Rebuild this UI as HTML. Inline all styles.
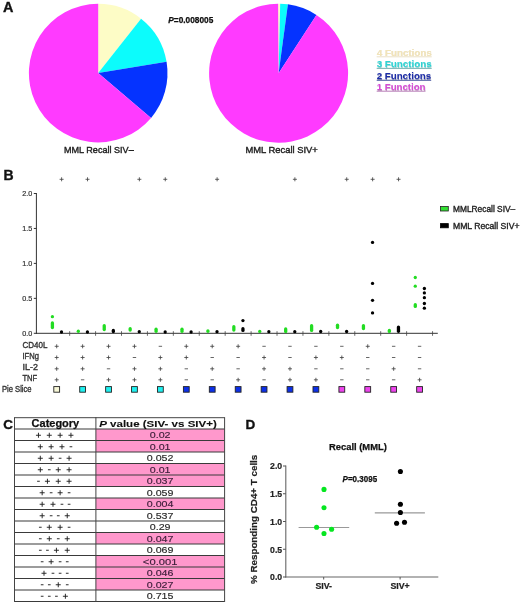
<!DOCTYPE html>
<html><head><meta charset="utf-8"><style>
html,body{margin:0;padding:0;background:#fff;overflow:hidden;}
svg{display:block;will-change:transform;font-family:"Liberation Sans", sans-serif;}
</style></head><body>
<svg width="520" height="604" viewBox="0 0 520 604">
<rect width="520" height="604" fill="#fff"/>
<text x="2.9" y="11.8" font-size="14.4" font-weight="bold" fill="#111" stroke="#111" stroke-width="0.35">A</text>
<path d="M98.20,73.10 L98.20,3.80 A69.3,69.3 0 0 1 141.06,18.64 Z" fill="#fdfcc6"/>
<path d="M98.20,73.10 L141.06,18.64 A69.3,69.3 0 0 1 166.57,61.78 Z" fill="#0cfcfc"/>
<path d="M98.20,73.10 L166.57,61.78 A69.3,69.3 0 0 1 151.05,117.92 Z" fill="#0533ff"/>
<path d="M98.20,73.10 L151.05,117.92 A69.3,69.3 0 1 1 98.20,3.80 Z" fill="#ff3aff"/>
<path d="M278.60,73.20 L278.11,3.70 A69.5,69.5 0 0 1 280.18,3.72 Z" fill="#fdfcc6"/>
<path d="M278.60,73.20 L280.18,3.72 A69.5,69.5 0 0 1 287.91,4.33 Z" fill="#0cfcfc"/>
<path d="M278.60,73.20 L287.91,4.33 A69.5,69.5 0 0 1 316.45,14.91 Z" fill="#0533ff"/>
<path d="M278.60,73.20 L316.45,14.91 A69.5,69.5 0 1 1 278.11,3.70 Z" fill="#ff3aff"/>
<text x="168.3" y="22.8" font-size="8.4" font-weight="bold" fill="#111" stroke="#111" stroke-width="0.25" textLength="45" lengthAdjust="spacingAndGlyphs"><tspan font-style="italic">P</tspan>=0.008005</text>
<text x="64" y="153.3" font-size="9.7" fill="#222" stroke="#222" stroke-width="0.4" textLength="69.7" lengthAdjust="spacingAndGlyphs">MML Recall SIV–</text>
<text x="245.5" y="153.3" font-size="9.7" fill="#222" stroke="#222" stroke-width="0.4" textLength="72.3" lengthAdjust="spacingAndGlyphs">MML Recall SIV+</text>
<line x1="376.7" y1="56.8" x2="431.7" y2="56.8" stroke="#e8dcc0" stroke-width="0.9"/>
<text x="377.0" y="56.099999999999994" font-size="9.4" font-weight="bold" fill="#c8b898" opacity="0.45" textLength="55" lengthAdjust="spacingAndGlyphs">4 Functions</text>
<text x="376.7" y="55.8" font-size="9.4" font-weight="bold" fill="#f2e4b8" textLength="55" lengthAdjust="spacingAndGlyphs">4 Functions</text>
<line x1="376.7" y1="68.35" x2="431.7" y2="68.35" stroke="#60a8a8" stroke-width="0.9"/>
<text x="377.0" y="67.64999999999999" font-size="9.4" font-weight="bold" fill="#209898" opacity="0.45" textLength="55" lengthAdjust="spacingAndGlyphs">3 Functions</text>
<text x="376.7" y="67.35" font-size="9.4" font-weight="bold" fill="#2cd4d4" textLength="55" lengthAdjust="spacingAndGlyphs">3 Functions</text>
<line x1="376.7" y1="80.25" x2="431.2" y2="80.25" stroke="#2a3a90" stroke-width="0.9"/>
<text x="377.0" y="79.55" font-size="9.4" font-weight="bold" fill="#101860" opacity="0.45" textLength="54.5" lengthAdjust="spacingAndGlyphs">2 Functions</text>
<text x="376.7" y="79.25" font-size="9.4" font-weight="bold" fill="#1c2ca8" textLength="54.5" lengthAdjust="spacingAndGlyphs">2 Functions</text>
<line x1="376.7" y1="91.2" x2="425.5" y2="91.2" stroke="#b070b0" stroke-width="0.9"/>
<text x="377.0" y="90.5" font-size="9.4" font-weight="bold" fill="#904090" opacity="0.45" textLength="48.8" lengthAdjust="spacingAndGlyphs">1 Function</text>
<text x="376.7" y="90.2" font-size="9.4" font-weight="bold" fill="#d64cd6" textLength="48.8" lengthAdjust="spacingAndGlyphs">1 Function</text>
<text x="3.5" y="179.5" font-size="14" font-weight="bold" fill="#111" stroke="#111" stroke-width="0.35">B</text>
<line x1="36.4" y1="193.0" x2="36.4" y2="333.8" stroke="#333" stroke-width="1"/>
<line x1="35.9" y1="333.3" x2="437.8" y2="333.3" stroke="#333" stroke-width="1"/>
<line x1="33.8" y1="333.30" x2="36.4" y2="333.30" stroke="#333" stroke-width="1"/>
<text x="32.3" y="335.90" font-size="7.2" fill="#333" stroke="#333" stroke-width="0.2" text-anchor="end">0.0</text>
<line x1="33.8" y1="298.35" x2="36.4" y2="298.35" stroke="#333" stroke-width="1"/>
<text x="32.3" y="300.95" font-size="7.2" fill="#333" stroke="#333" stroke-width="0.2" text-anchor="end">0.5</text>
<line x1="33.8" y1="263.40" x2="36.4" y2="263.40" stroke="#333" stroke-width="1"/>
<text x="32.3" y="266.00" font-size="7.2" fill="#333" stroke="#333" stroke-width="0.2" text-anchor="end">1.0</text>
<line x1="33.8" y1="228.45" x2="36.4" y2="228.45" stroke="#333" stroke-width="1"/>
<text x="32.3" y="231.05" font-size="7.2" fill="#333" stroke="#333" stroke-width="0.2" text-anchor="end">1.5</text>
<line x1="33.8" y1="193.50" x2="36.4" y2="193.50" stroke="#333" stroke-width="1"/>
<text x="32.3" y="196.10" font-size="7.2" fill="#333" stroke="#333" stroke-width="0.2" text-anchor="end">2.0</text>
<line x1="69.66" y1="331.2" x2="69.66" y2="335.8" stroke="#444" stroke-width="0.8"/>
<line x1="95.58" y1="331.2" x2="95.58" y2="335.8" stroke="#444" stroke-width="0.8"/>
<line x1="121.50" y1="331.2" x2="121.50" y2="335.8" stroke="#444" stroke-width="0.8"/>
<line x1="147.42" y1="331.2" x2="147.42" y2="335.8" stroke="#444" stroke-width="0.8"/>
<line x1="173.34" y1="331.2" x2="173.34" y2="335.8" stroke="#444" stroke-width="0.8"/>
<line x1="199.26" y1="331.2" x2="199.26" y2="335.8" stroke="#444" stroke-width="0.8"/>
<line x1="225.18" y1="331.2" x2="225.18" y2="335.8" stroke="#444" stroke-width="0.8"/>
<line x1="251.10" y1="331.2" x2="251.10" y2="335.8" stroke="#444" stroke-width="0.8"/>
<line x1="277.02" y1="331.2" x2="277.02" y2="335.8" stroke="#444" stroke-width="0.8"/>
<line x1="302.94" y1="331.2" x2="302.94" y2="335.8" stroke="#444" stroke-width="0.8"/>
<line x1="328.86" y1="331.2" x2="328.86" y2="335.8" stroke="#444" stroke-width="0.8"/>
<line x1="354.78" y1="331.2" x2="354.78" y2="335.8" stroke="#444" stroke-width="0.8"/>
<line x1="380.70" y1="331.2" x2="380.70" y2="335.8" stroke="#444" stroke-width="0.8"/>
<line x1="406.62" y1="331.2" x2="406.62" y2="335.8" stroke="#444" stroke-width="0.8"/>
<line x1="432.54" y1="331.2" x2="432.54" y2="335.8" stroke="#444" stroke-width="0.8"/>
<path d="M59.60,179.30H63.60M61.60,177.30V181.30" stroke="#444" stroke-width="0.85" fill="none"/>
<path d="M85.52,179.30H89.52M87.52,177.30V181.30" stroke="#444" stroke-width="0.85" fill="none"/>
<path d="M137.36,179.30H141.36M139.36,177.30V181.30" stroke="#444" stroke-width="0.85" fill="none"/>
<path d="M163.28,179.30H167.28M165.28,177.30V181.30" stroke="#444" stroke-width="0.85" fill="none"/>
<path d="M215.12,179.30H219.12M217.12,177.30V181.30" stroke="#444" stroke-width="0.85" fill="none"/>
<path d="M292.88,179.30H296.88M294.88,177.30V181.30" stroke="#444" stroke-width="0.85" fill="none"/>
<path d="M344.72,179.30H348.72M346.72,177.30V181.30" stroke="#444" stroke-width="0.85" fill="none"/>
<path d="M370.64,179.30H374.64M372.64,177.30V181.30" stroke="#444" stroke-width="0.85" fill="none"/>
<path d="M396.56,179.30H400.56M398.56,177.30V181.30" stroke="#444" stroke-width="0.85" fill="none"/>
<path d="M54.70,346.30H58.70M56.70,344.30V348.30" stroke="#444" stroke-width="0.85" fill="none"/>
<path d="M54.70,357.50H58.70M56.70,355.50V359.50" stroke="#444" stroke-width="0.85" fill="none"/>
<path d="M54.70,368.80H58.70M56.70,366.80V370.80" stroke="#444" stroke-width="0.85" fill="none"/>
<path d="M54.70,379.80H58.70M56.70,377.80V381.80" stroke="#444" stroke-width="0.85" fill="none"/>
<rect x="53.80" y="386.6" width="5.8" height="5.6" fill="#f8f8d8" stroke="#222" stroke-width="0.9"/>
<path d="M80.62,346.30H84.62M82.62,344.30V348.30" stroke="#444" stroke-width="0.85" fill="none"/>
<path d="M80.62,357.50H84.62M82.62,355.50V359.50" stroke="#444" stroke-width="0.85" fill="none"/>
<path d="M80.62,368.80H84.62M82.62,366.80V370.80" stroke="#444" stroke-width="0.85" fill="none"/>
<path d="M80.92,379.80H84.32" stroke="#555" stroke-width="0.9" fill="none"/>
<rect x="79.72" y="386.6" width="5.8" height="5.6" fill="#20f0f0" stroke="#222" stroke-width="0.9"/>
<path d="M106.54,346.30H110.54M108.54,344.30V348.30" stroke="#444" stroke-width="0.85" fill="none"/>
<path d="M106.54,357.50H110.54M108.54,355.50V359.50" stroke="#444" stroke-width="0.85" fill="none"/>
<path d="M106.84,368.80H110.24" stroke="#555" stroke-width="0.9" fill="none"/>
<path d="M106.54,379.80H110.54M108.54,377.80V381.80" stroke="#444" stroke-width="0.85" fill="none"/>
<rect x="105.64" y="386.6" width="5.8" height="5.6" fill="#20f0f0" stroke="#222" stroke-width="0.9"/>
<path d="M132.46,346.30H136.46M134.46,344.30V348.30" stroke="#444" stroke-width="0.85" fill="none"/>
<path d="M132.76,357.50H136.16" stroke="#555" stroke-width="0.9" fill="none"/>
<path d="M132.46,368.80H136.46M134.46,366.80V370.80" stroke="#444" stroke-width="0.85" fill="none"/>
<path d="M132.46,379.80H136.46M134.46,377.80V381.80" stroke="#444" stroke-width="0.85" fill="none"/>
<rect x="131.56" y="386.6" width="5.8" height="5.6" fill="#20f0f0" stroke="#222" stroke-width="0.9"/>
<path d="M158.68,346.30H162.08" stroke="#555" stroke-width="0.9" fill="none"/>
<path d="M158.38,357.50H162.38M160.38,355.50V359.50" stroke="#444" stroke-width="0.85" fill="none"/>
<path d="M158.38,368.80H162.38M160.38,366.80V370.80" stroke="#444" stroke-width="0.85" fill="none"/>
<path d="M158.38,379.80H162.38M160.38,377.80V381.80" stroke="#444" stroke-width="0.85" fill="none"/>
<rect x="157.48" y="386.6" width="5.8" height="5.6" fill="#20f0f0" stroke="#222" stroke-width="0.9"/>
<path d="M184.30,346.30H188.30M186.30,344.30V348.30" stroke="#444" stroke-width="0.85" fill="none"/>
<path d="M184.30,357.50H188.30M186.30,355.50V359.50" stroke="#444" stroke-width="0.85" fill="none"/>
<path d="M184.60,368.80H188.00" stroke="#555" stroke-width="0.9" fill="none"/>
<path d="M184.60,379.80H188.00" stroke="#555" stroke-width="0.9" fill="none"/>
<rect x="183.40" y="386.6" width="5.8" height="5.6" fill="#0c30e8" stroke="#222" stroke-width="0.9"/>
<path d="M210.22,346.30H214.22M212.22,344.30V348.30" stroke="#444" stroke-width="0.85" fill="none"/>
<path d="M210.52,357.50H213.92" stroke="#555" stroke-width="0.9" fill="none"/>
<path d="M210.22,368.80H214.22M212.22,366.80V370.80" stroke="#444" stroke-width="0.85" fill="none"/>
<path d="M210.52,379.80H213.92" stroke="#555" stroke-width="0.9" fill="none"/>
<rect x="209.32" y="386.6" width="5.8" height="5.6" fill="#0c30e8" stroke="#222" stroke-width="0.9"/>
<path d="M236.14,346.30H240.14M238.14,344.30V348.30" stroke="#444" stroke-width="0.85" fill="none"/>
<path d="M236.44,357.50H239.84" stroke="#555" stroke-width="0.9" fill="none"/>
<path d="M236.44,368.80H239.84" stroke="#555" stroke-width="0.9" fill="none"/>
<path d="M236.14,379.80H240.14M238.14,377.80V381.80" stroke="#444" stroke-width="0.85" fill="none"/>
<rect x="235.24" y="386.6" width="5.8" height="5.6" fill="#0c30e8" stroke="#222" stroke-width="0.9"/>
<path d="M262.36,346.30H265.76" stroke="#555" stroke-width="0.9" fill="none"/>
<path d="M262.06,357.50H266.06M264.06,355.50V359.50" stroke="#444" stroke-width="0.85" fill="none"/>
<path d="M262.06,368.80H266.06M264.06,366.80V370.80" stroke="#444" stroke-width="0.85" fill="none"/>
<path d="M262.36,379.80H265.76" stroke="#555" stroke-width="0.9" fill="none"/>
<rect x="261.16" y="386.6" width="5.8" height="5.6" fill="#0c30e8" stroke="#222" stroke-width="0.9"/>
<path d="M288.28,346.30H291.68" stroke="#555" stroke-width="0.9" fill="none"/>
<path d="M288.28,357.50H291.68" stroke="#555" stroke-width="0.9" fill="none"/>
<path d="M287.98,368.80H291.98M289.98,366.80V370.80" stroke="#444" stroke-width="0.85" fill="none"/>
<path d="M287.98,379.80H291.98M289.98,377.80V381.80" stroke="#444" stroke-width="0.85" fill="none"/>
<rect x="287.08" y="386.6" width="5.8" height="5.6" fill="#0c30e8" stroke="#222" stroke-width="0.9"/>
<path d="M314.20,346.30H317.60" stroke="#555" stroke-width="0.9" fill="none"/>
<path d="M313.90,357.50H317.90M315.90,355.50V359.50" stroke="#444" stroke-width="0.85" fill="none"/>
<path d="M314.20,368.80H317.60" stroke="#555" stroke-width="0.9" fill="none"/>
<path d="M313.90,379.80H317.90M315.90,377.80V381.80" stroke="#444" stroke-width="0.85" fill="none"/>
<rect x="313.00" y="386.6" width="5.8" height="5.6" fill="#0c30e8" stroke="#222" stroke-width="0.9"/>
<path d="M340.12,346.30H343.52" stroke="#555" stroke-width="0.9" fill="none"/>
<path d="M339.82,357.50H343.82M341.82,355.50V359.50" stroke="#444" stroke-width="0.85" fill="none"/>
<path d="M340.12,368.80H343.52" stroke="#555" stroke-width="0.9" fill="none"/>
<path d="M340.12,379.80H343.52" stroke="#555" stroke-width="0.9" fill="none"/>
<rect x="338.92" y="386.6" width="5.8" height="5.6" fill="#ee44ee" stroke="#222" stroke-width="0.9"/>
<path d="M365.74,346.30H369.74M367.74,344.30V348.30" stroke="#444" stroke-width="0.85" fill="none"/>
<path d="M366.04,357.50H369.44" stroke="#555" stroke-width="0.9" fill="none"/>
<path d="M366.04,368.80H369.44" stroke="#555" stroke-width="0.9" fill="none"/>
<path d="M366.04,379.80H369.44" stroke="#555" stroke-width="0.9" fill="none"/>
<rect x="364.84" y="386.6" width="5.8" height="5.6" fill="#ee44ee" stroke="#222" stroke-width="0.9"/>
<path d="M391.96,346.30H395.36" stroke="#555" stroke-width="0.9" fill="none"/>
<path d="M391.96,357.50H395.36" stroke="#555" stroke-width="0.9" fill="none"/>
<path d="M391.66,368.80H395.66M393.66,366.80V370.80" stroke="#444" stroke-width="0.85" fill="none"/>
<path d="M391.96,379.80H395.36" stroke="#555" stroke-width="0.9" fill="none"/>
<rect x="390.76" y="386.6" width="5.8" height="5.6" fill="#ee44ee" stroke="#222" stroke-width="0.9"/>
<path d="M417.88,346.30H421.28" stroke="#555" stroke-width="0.9" fill="none"/>
<path d="M417.88,357.50H421.28" stroke="#555" stroke-width="0.9" fill="none"/>
<path d="M417.88,368.80H421.28" stroke="#555" stroke-width="0.9" fill="none"/>
<path d="M417.58,379.80H421.58M419.58,377.80V381.80" stroke="#444" stroke-width="0.85" fill="none"/>
<rect x="416.68" y="386.6" width="5.8" height="5.6" fill="#ee44ee" stroke="#222" stroke-width="0.9"/>
<text x="22.5" y="347.5" font-size="8.3" fill="#333" stroke="#333" stroke-width="0.35" textLength="24.9" lengthAdjust="spacingAndGlyphs">CD40L</text>
<text x="22.5" y="358.6" font-size="8.3" fill="#333" stroke="#333" stroke-width="0.35" textLength="16.5" lengthAdjust="spacingAndGlyphs">IFNg</text>
<text x="22.5" y="370" font-size="8.3" fill="#333" stroke="#333" stroke-width="0.35" textLength="15.5" lengthAdjust="spacingAndGlyphs">IL-2</text>
<text x="22.5" y="380.9" font-size="8.3" fill="#333" stroke="#333" stroke-width="0.35" textLength="14.7" lengthAdjust="spacingAndGlyphs">TNF</text>
<text x="2" y="392.2" font-size="8.3" fill="#333" stroke="#333" stroke-width="0.35" textLength="29.6" lengthAdjust="spacingAndGlyphs">Pie Slice</text>
<circle cx="52.40" cy="316.70" r="1.65" fill="#22dc22"/>
<line x1="52.40" y1="322.95" x2="52.40" y2="327.55" stroke="#22dc22" stroke-width="3.3" stroke-linecap="round"/>
<line x1="78.32" y1="331.25" x2="78.32" y2="331.35" stroke="#22dc22" stroke-width="3.3" stroke-linecap="round"/>
<line x1="104.24" y1="325.65" x2="104.24" y2="329.55" stroke="#22dc22" stroke-width="3.3" stroke-linecap="round"/>
<line x1="130.16" y1="328.65" x2="130.16" y2="330.05" stroke="#22dc22" stroke-width="3.3" stroke-linecap="round"/>
<line x1="156.08" y1="329.25" x2="156.08" y2="331.35" stroke="#22dc22" stroke-width="3.3" stroke-linecap="round"/>
<line x1="182.00" y1="329.25" x2="182.00" y2="331.35" stroke="#22dc22" stroke-width="3.3" stroke-linecap="round"/>
<line x1="207.92" y1="330.85" x2="207.92" y2="331.35" stroke="#22dc22" stroke-width="3.3" stroke-linecap="round"/>
<line x1="233.84" y1="326.65" x2="233.84" y2="330.05" stroke="#22dc22" stroke-width="3.3" stroke-linecap="round"/>
<circle cx="259.76" cy="331.40" r="1.65" fill="#22dc22"/>
<line x1="285.68" y1="328.95" x2="285.68" y2="331.55" stroke="#22dc22" stroke-width="3.3" stroke-linecap="round"/>
<line x1="311.60" y1="325.65" x2="311.60" y2="330.45" stroke="#22dc22" stroke-width="3.3" stroke-linecap="round"/>
<line x1="337.52" y1="325.15" x2="337.52" y2="327.55" stroke="#22dc22" stroke-width="3.3" stroke-linecap="round"/>
<line x1="363.44" y1="325.65" x2="363.44" y2="328.55" stroke="#22dc22" stroke-width="3.3" stroke-linecap="round"/>
<line x1="389.36" y1="330.45" x2="389.36" y2="331.45" stroke="#22dc22" stroke-width="3.3" stroke-linecap="round"/>
<circle cx="415.28" cy="277.50" r="1.65" fill="#22dc22"/>
<circle cx="415.28" cy="286.20" r="1.65" fill="#22dc22"/>
<line x1="415.28" y1="304.75" x2="415.28" y2="306.45" stroke="#22dc22" stroke-width="3.3" stroke-linecap="round"/>
<circle cx="61.50" cy="332.00" r="1.65" fill="#000"/>
<circle cx="87.42" cy="332.00" r="1.65" fill="#000"/>
<line x1="113.34" y1="330.45" x2="113.34" y2="331.55" stroke="#000" stroke-width="3.3" stroke-linecap="round"/>
<circle cx="139.26" cy="331.70" r="1.65" fill="#000"/>
<circle cx="165.18" cy="332.00" r="1.65" fill="#000"/>
<circle cx="191.10" cy="332.00" r="1.65" fill="#000"/>
<circle cx="217.02" cy="331.70" r="1.65" fill="#000"/>
<circle cx="242.94" cy="320.60" r="1.65" fill="#000"/>
<line x1="242.94" y1="328.65" x2="242.94" y2="330.45" stroke="#000" stroke-width="3.3" stroke-linecap="round"/>
<circle cx="268.86" cy="331.70" r="1.65" fill="#000"/>
<circle cx="294.78" cy="331.70" r="1.65" fill="#000"/>
<circle cx="320.70" cy="331.50" r="1.65" fill="#000"/>
<circle cx="346.62" cy="331.50" r="1.65" fill="#000"/>
<circle cx="372.54" cy="242.40" r="1.65" fill="#000"/>
<circle cx="372.54" cy="283.40" r="1.65" fill="#000"/>
<circle cx="372.54" cy="300.30" r="1.65" fill="#000"/>
<circle cx="372.54" cy="312.90" r="1.65" fill="#000"/>
<line x1="398.46" y1="327.05" x2="398.46" y2="331.35" stroke="#000" stroke-width="3.3" stroke-linecap="round"/>
<circle cx="424.38" cy="288.50" r="1.65" fill="#000"/>
<circle cx="424.38" cy="292.90" r="1.65" fill="#000"/>
<circle cx="424.38" cy="297.70" r="1.65" fill="#000"/>
<circle cx="424.38" cy="303.50" r="1.65" fill="#000"/>
<circle cx="424.38" cy="308.20" r="1.65" fill="#000"/>
<rect x="440.5" y="206.5" width="7.8" height="4.5" fill="#33e033" stroke="#222" stroke-width="0.8"/>
<rect x="440.5" y="223.6" width="7.8" height="4.2" fill="#000" stroke="#000" stroke-width="0.8"/>
<text x="453" y="212.1" font-size="8.2" fill="#222" stroke="#222" stroke-width="0.35" textLength="62.2" lengthAdjust="spacingAndGlyphs">MMLRecall SIV–</text>
<text x="453" y="228.8" font-size="8.2" fill="#222" stroke="#222" stroke-width="0.35" textLength="66.5" lengthAdjust="spacingAndGlyphs">MML Recall SIV+</text>
<text x="3.2" y="428.5" font-size="13.5" font-weight="bold" fill="#111" stroke="#111" stroke-width="0.35">C</text>
<rect x="95.9" y="429.00" width="128.70" height="11.50" fill="#ff98cc"/>
<rect x="95.9" y="440.50" width="128.70" height="11.50" fill="#ff98cc"/>
<rect x="95.9" y="463.50" width="128.70" height="11.50" fill="#ff98cc"/>
<rect x="95.9" y="475.00" width="128.70" height="11.50" fill="#ff98cc"/>
<rect x="95.9" y="498.00" width="128.70" height="11.50" fill="#ff98cc"/>
<rect x="95.9" y="532.50" width="128.70" height="11.50" fill="#ff98cc"/>
<rect x="95.9" y="555.50" width="128.70" height="11.50" fill="#ff98cc"/>
<rect x="95.9" y="567.00" width="128.70" height="11.50" fill="#ff98cc"/>
<rect x="95.9" y="578.50" width="128.70" height="11.50" fill="#ff98cc"/>
<line x1="14.5" y1="429.00" x2="224.6" y2="429.00" stroke="#3a3a3a" stroke-width="1.2"/>
<line x1="14.5" y1="440.50" x2="224.6" y2="440.50" stroke="#3a3a3a" stroke-width="1.2"/>
<line x1="14.5" y1="452.00" x2="224.6" y2="452.00" stroke="#3a3a3a" stroke-width="1.2"/>
<line x1="14.5" y1="463.50" x2="224.6" y2="463.50" stroke="#3a3a3a" stroke-width="1.2"/>
<line x1="14.5" y1="475.00" x2="224.6" y2="475.00" stroke="#3a3a3a" stroke-width="1.2"/>
<line x1="14.5" y1="486.50" x2="224.6" y2="486.50" stroke="#3a3a3a" stroke-width="1.2"/>
<line x1="14.5" y1="498.00" x2="224.6" y2="498.00" stroke="#3a3a3a" stroke-width="1.2"/>
<line x1="14.5" y1="509.50" x2="224.6" y2="509.50" stroke="#3a3a3a" stroke-width="1.2"/>
<line x1="14.5" y1="521.00" x2="224.6" y2="521.00" stroke="#3a3a3a" stroke-width="1.2"/>
<line x1="14.5" y1="532.50" x2="224.6" y2="532.50" stroke="#3a3a3a" stroke-width="1.2"/>
<line x1="14.5" y1="544.00" x2="224.6" y2="544.00" stroke="#3a3a3a" stroke-width="1.2"/>
<line x1="14.5" y1="555.50" x2="224.6" y2="555.50" stroke="#3a3a3a" stroke-width="1.2"/>
<line x1="14.5" y1="567.00" x2="224.6" y2="567.00" stroke="#3a3a3a" stroke-width="1.2"/>
<line x1="14.5" y1="578.50" x2="224.6" y2="578.50" stroke="#3a3a3a" stroke-width="1.2"/>
<line x1="14.5" y1="590.00" x2="224.6" y2="590.00" stroke="#3a3a3a" stroke-width="1.2"/>
<line x1="14.5" y1="601.50" x2="224.6" y2="601.50" stroke="#3a3a3a" stroke-width="1.2"/>
<line x1="14.5" y1="417.7" x2="224.6" y2="417.7" stroke="#444" stroke-width="1"/>
<line x1="14.5" y1="417.2" x2="14.5" y2="602.00" stroke="#444" stroke-width="1"/>
<line x1="95.9" y1="417.2" x2="95.9" y2="602.00" stroke="#444" stroke-width="1"/>
<line x1="224.6" y1="417.2" x2="224.6" y2="602.00" stroke="#444" stroke-width="1"/>
<text x="31.6" y="427.3" font-size="10" font-weight="bold" fill="#111" stroke="#111" stroke-width="0.25" textLength="47.6" lengthAdjust="spacingAndGlyphs">Category</text>
<text x="99.2" y="427.0" font-size="9.9" font-weight="bold" fill="#111" stroke="#111" stroke-width="0.1" textLength="117.6" lengthAdjust="spacingAndGlyphs"><tspan font-style="italic">P</tspan> value (SIV- vs SIV+)</text>
<path d="M35.96,435.25H40.96M38.46,432.75V437.75" stroke="#222" stroke-width="0.95" fill="none"/>
<path d="M46.79,435.25H51.79M49.29,432.75V437.75" stroke="#222" stroke-width="0.95" fill="none"/>
<path d="M57.61,435.25H62.61M60.11,432.75V437.75" stroke="#222" stroke-width="0.95" fill="none"/>
<path d="M68.44,435.25H73.44M70.94,432.75V437.75" stroke="#222" stroke-width="0.95" fill="none"/>
<text x="149.74" y="438.35" font-size="8.9" fill="#40203c" stroke="#40203c" stroke-width="0.15" textLength="20.83" lengthAdjust="spacingAndGlyphs">0.02</text>
<path d="M37.81,446.75H42.81M40.31,444.25V449.25" stroke="#222" stroke-width="0.95" fill="none"/>
<path d="M48.64,446.75H53.64M51.14,444.25V449.25" stroke="#222" stroke-width="0.95" fill="none"/>
<path d="M59.47,446.75H64.47M61.97,444.25V449.25" stroke="#222" stroke-width="0.95" fill="none"/>
<path d="M69.59,446.75H72.29" stroke="#222" stroke-width="0.95" fill="none"/>
<text x="149.74" y="449.85" font-size="8.9" fill="#40203c" stroke="#40203c" stroke-width="0.15" textLength="20.83" lengthAdjust="spacingAndGlyphs">0.01</text>
<path d="M37.81,458.25H42.81M40.31,455.75V460.75" stroke="#222" stroke-width="0.95" fill="none"/>
<path d="M48.64,458.25H53.64M51.14,455.75V460.75" stroke="#222" stroke-width="0.95" fill="none"/>
<path d="M58.76,458.25H61.46" stroke="#222" stroke-width="0.95" fill="none"/>
<path d="M66.59,458.25H71.59M69.09,455.75V460.75" stroke="#222" stroke-width="0.95" fill="none"/>
<text x="146.78" y="461.35" font-size="8.9" fill="#2a2a2a" stroke="#2a2a2a" stroke-width="0.15" textLength="26.74" lengthAdjust="spacingAndGlyphs">0.052</text>
<path d="M37.81,469.75H42.81M40.31,467.25V472.25" stroke="#222" stroke-width="0.95" fill="none"/>
<path d="M47.94,469.75H50.64" stroke="#222" stroke-width="0.95" fill="none"/>
<path d="M55.76,469.75H60.76M58.26,467.25V472.25" stroke="#222" stroke-width="0.95" fill="none"/>
<path d="M66.59,469.75H71.59M69.09,467.25V472.25" stroke="#222" stroke-width="0.95" fill="none"/>
<text x="149.74" y="472.85" font-size="8.9" fill="#40203c" stroke="#40203c" stroke-width="0.15" textLength="20.83" lengthAdjust="spacingAndGlyphs">0.01</text>
<path d="M37.11,481.25H39.81" stroke="#222" stroke-width="0.95" fill="none"/>
<path d="M44.93,481.25H49.93M47.43,478.75V483.75" stroke="#222" stroke-width="0.95" fill="none"/>
<path d="M55.76,481.25H60.76M58.26,478.75V483.75" stroke="#222" stroke-width="0.95" fill="none"/>
<path d="M66.59,481.25H71.59M69.09,478.75V483.75" stroke="#222" stroke-width="0.95" fill="none"/>
<text x="146.78" y="484.35" font-size="8.9" fill="#40203c" stroke="#40203c" stroke-width="0.15" textLength="26.74" lengthAdjust="spacingAndGlyphs">0.037</text>
<path d="M39.66,492.75H44.66M42.16,490.25V495.25" stroke="#222" stroke-width="0.95" fill="none"/>
<path d="M49.79,492.75H52.49" stroke="#222" stroke-width="0.95" fill="none"/>
<path d="M57.61,492.75H62.61M60.11,490.25V495.25" stroke="#222" stroke-width="0.95" fill="none"/>
<path d="M67.74,492.75H70.44" stroke="#222" stroke-width="0.95" fill="none"/>
<text x="146.78" y="495.85" font-size="8.9" fill="#2a2a2a" stroke="#2a2a2a" stroke-width="0.15" textLength="26.74" lengthAdjust="spacingAndGlyphs">0.059</text>
<path d="M39.66,504.25H44.66M42.16,501.75V506.75" stroke="#222" stroke-width="0.95" fill="none"/>
<path d="M50.49,504.25H55.49M52.99,501.75V506.75" stroke="#222" stroke-width="0.95" fill="none"/>
<path d="M60.62,504.25H63.32" stroke="#222" stroke-width="0.95" fill="none"/>
<path d="M67.74,504.25H70.44" stroke="#222" stroke-width="0.95" fill="none"/>
<text x="146.78" y="507.35" font-size="8.9" fill="#40203c" stroke="#40203c" stroke-width="0.15" textLength="26.74" lengthAdjust="spacingAndGlyphs">0.004</text>
<path d="M39.66,515.75H44.66M42.16,513.25V518.25" stroke="#222" stroke-width="0.95" fill="none"/>
<path d="M49.79,515.75H52.49" stroke="#222" stroke-width="0.95" fill="none"/>
<path d="M56.91,515.75H59.61" stroke="#222" stroke-width="0.95" fill="none"/>
<path d="M64.74,515.75H69.74M67.24,513.25V518.25" stroke="#222" stroke-width="0.95" fill="none"/>
<text x="146.78" y="518.85" font-size="8.9" fill="#2a2a2a" stroke="#2a2a2a" stroke-width="0.15" textLength="26.74" lengthAdjust="spacingAndGlyphs">0.537</text>
<path d="M38.96,527.25H41.66" stroke="#222" stroke-width="0.95" fill="none"/>
<path d="M46.79,527.25H51.79M49.29,524.75V529.75" stroke="#222" stroke-width="0.95" fill="none"/>
<path d="M57.61,527.25H62.61M60.11,524.75V529.75" stroke="#222" stroke-width="0.95" fill="none"/>
<path d="M67.74,527.25H70.44" stroke="#222" stroke-width="0.95" fill="none"/>
<text x="149.74" y="530.35" font-size="8.9" fill="#2a2a2a" stroke="#2a2a2a" stroke-width="0.15" textLength="20.83" lengthAdjust="spacingAndGlyphs">0.29</text>
<path d="M38.96,538.75H41.66" stroke="#222" stroke-width="0.95" fill="none"/>
<path d="M46.79,538.75H51.79M49.29,536.25V541.25" stroke="#222" stroke-width="0.95" fill="none"/>
<path d="M56.91,538.75H59.61" stroke="#222" stroke-width="0.95" fill="none"/>
<path d="M64.74,538.75H69.74M67.24,536.25V541.25" stroke="#222" stroke-width="0.95" fill="none"/>
<text x="146.78" y="541.85" font-size="8.9" fill="#40203c" stroke="#40203c" stroke-width="0.15" textLength="26.74" lengthAdjust="spacingAndGlyphs">0.047</text>
<path d="M38.96,550.25H41.66" stroke="#222" stroke-width="0.95" fill="none"/>
<path d="M46.08,550.25H48.78" stroke="#222" stroke-width="0.95" fill="none"/>
<path d="M53.91,550.25H58.91M56.41,547.75V552.75" stroke="#222" stroke-width="0.95" fill="none"/>
<path d="M64.74,550.25H69.74M67.24,547.75V552.75" stroke="#222" stroke-width="0.95" fill="none"/>
<text x="146.78" y="553.35" font-size="8.9" fill="#2a2a2a" stroke="#2a2a2a" stroke-width="0.15" textLength="26.74" lengthAdjust="spacingAndGlyphs">0.069</text>
<path d="M40.81,561.75H43.51" stroke="#222" stroke-width="0.95" fill="none"/>
<path d="M48.64,561.75H53.64M51.14,559.25V564.25" stroke="#222" stroke-width="0.95" fill="none"/>
<path d="M58.76,561.75H61.46" stroke="#222" stroke-width="0.95" fill="none"/>
<path d="M65.89,561.75H68.59" stroke="#222" stroke-width="0.95" fill="none"/>
<text x="142.88" y="564.85" font-size="8.9" fill="#40203c" stroke="#40203c" stroke-width="0.15" textLength="34.54" lengthAdjust="spacingAndGlyphs">&lt;0.001</text>
<path d="M41.51,573.25H46.51M44.01,570.75V575.75" stroke="#222" stroke-width="0.95" fill="none"/>
<path d="M51.64,573.25H54.34" stroke="#222" stroke-width="0.95" fill="none"/>
<path d="M58.76,573.25H61.46" stroke="#222" stroke-width="0.95" fill="none"/>
<path d="M65.89,573.25H68.59" stroke="#222" stroke-width="0.95" fill="none"/>
<text x="146.78" y="576.35" font-size="8.9" fill="#40203c" stroke="#40203c" stroke-width="0.15" textLength="26.74" lengthAdjust="spacingAndGlyphs">0.046</text>
<path d="M40.81,584.75H43.51" stroke="#222" stroke-width="0.95" fill="none"/>
<path d="M47.94,584.75H50.64" stroke="#222" stroke-width="0.95" fill="none"/>
<path d="M55.76,584.75H60.76M58.26,582.25V587.25" stroke="#222" stroke-width="0.95" fill="none"/>
<path d="M65.89,584.75H68.59" stroke="#222" stroke-width="0.95" fill="none"/>
<text x="146.78" y="587.85" font-size="8.9" fill="#40203c" stroke="#40203c" stroke-width="0.15" textLength="26.74" lengthAdjust="spacingAndGlyphs">0.027</text>
<path d="M40.81,596.25H43.51" stroke="#222" stroke-width="0.95" fill="none"/>
<path d="M47.94,596.25H50.64" stroke="#222" stroke-width="0.95" fill="none"/>
<path d="M55.06,596.25H57.76" stroke="#222" stroke-width="0.95" fill="none"/>
<path d="M62.89,596.25H67.89M65.39,593.75V598.75" stroke="#222" stroke-width="0.95" fill="none"/>
<text x="146.78" y="599.35" font-size="8.9" fill="#2a2a2a" stroke="#2a2a2a" stroke-width="0.15" textLength="26.74" lengthAdjust="spacingAndGlyphs">0.715</text>
<text x="245.4" y="428.8" font-size="13.5" font-weight="bold" fill="#111" stroke="#111" stroke-width="0.35">D</text>
<text x="329.0" y="449.6" font-size="9.9" font-weight="bold" fill="#111" stroke="#111" stroke-width="0.25" textLength="57.8" lengthAdjust="spacingAndGlyphs">Recall (MML)</text>
<line x1="285.8" y1="465.5" x2="285.8" y2="577.5" stroke="#666" stroke-width="1.1"/>
<line x1="285.3" y1="577.0" x2="438.3" y2="577.0" stroke="#666" stroke-width="1.1"/>
<line x1="283" y1="577.00" x2="285.8" y2="577.00" stroke="#555" stroke-width="1"/>
<text x="270.10" y="580.30" font-size="9.5" font-weight="bold" fill="#222" stroke="#222" stroke-width="0.2" textLength="12.1" lengthAdjust="spacingAndGlyphs">0.0</text>
<line x1="283" y1="549.25" x2="285.8" y2="549.25" stroke="#555" stroke-width="1"/>
<text x="270.10" y="552.55" font-size="9.5" font-weight="bold" fill="#222" stroke="#222" stroke-width="0.2" textLength="12.1" lengthAdjust="spacingAndGlyphs">0.5</text>
<line x1="283" y1="521.50" x2="285.8" y2="521.50" stroke="#555" stroke-width="1"/>
<text x="270.10" y="524.80" font-size="9.5" font-weight="bold" fill="#222" stroke="#222" stroke-width="0.2" textLength="12.1" lengthAdjust="spacingAndGlyphs">1.0</text>
<line x1="283" y1="493.75" x2="285.8" y2="493.75" stroke="#555" stroke-width="1"/>
<text x="270.10" y="497.05" font-size="9.5" font-weight="bold" fill="#222" stroke="#222" stroke-width="0.2" textLength="12.1" lengthAdjust="spacingAndGlyphs">1.5</text>
<line x1="283" y1="466.00" x2="285.8" y2="466.00" stroke="#555" stroke-width="1"/>
<text x="270.10" y="469.30" font-size="9.5" font-weight="bold" fill="#222" stroke="#222" stroke-width="0.2" textLength="12.1" lengthAdjust="spacingAndGlyphs">2.0</text>
<line x1="323.7" y1="577.0" x2="323.7" y2="579.5" stroke="#555" stroke-width="1"/>
<line x1="400.1" y1="577.0" x2="400.1" y2="579.5" stroke="#555" stroke-width="1"/>
<text x="323.7" y="589.3" font-size="8.8" font-weight="bold" fill="#222" stroke="#222" stroke-width="0.2" text-anchor="middle">SIV-</text>
<text x="400.1" y="589.3" font-size="8.8" font-weight="bold" fill="#222" stroke="#222" stroke-width="0.2" text-anchor="middle">SIV+</text>
<text transform="translate(257,584) rotate(-90)" font-size="9.4" font-weight="bold" fill="#222" stroke="#222" stroke-width="0.2" textLength="129.3" lengthAdjust="spacingAndGlyphs">% Responding CD4+ T cells</text>
<text x="342.6" y="482.4" font-size="8.8" font-weight="bold" fill="#111" stroke="#111" stroke-width="0.25" textLength="34.5" lengthAdjust="spacingAndGlyphs"><tspan font-style="italic">P</tspan>=0.3095</text>
<line x1="298.6" y1="527.5" x2="349.2" y2="527.5" stroke="#999" stroke-width="1.2"/>
<line x1="374.8" y1="512.8" x2="424.9" y2="512.8" stroke="#999" stroke-width="1.2"/>
<circle cx="324.0" cy="489.4" r="2.55" fill="#05e620"/>
<circle cx="324.0" cy="507.7" r="2.55" fill="#05e620"/>
<circle cx="316.6" cy="527.3" r="2.55" fill="#05e620"/>
<circle cx="331.6" cy="529.2" r="2.55" fill="#05e620"/>
<circle cx="324.0" cy="533.5" r="2.55" fill="#05e620"/>
<circle cx="400.40000000000003" cy="471.5" r="2.55" fill="#000"/>
<circle cx="400.40000000000003" cy="504.2" r="2.55" fill="#000"/>
<circle cx="400.40000000000003" cy="512.5" r="2.55" fill="#000"/>
<circle cx="396.6" cy="523.2" r="2.55" fill="#000"/>
<circle cx="404.5" cy="522.3" r="2.55" fill="#000"/>
</svg>
</body></html>
